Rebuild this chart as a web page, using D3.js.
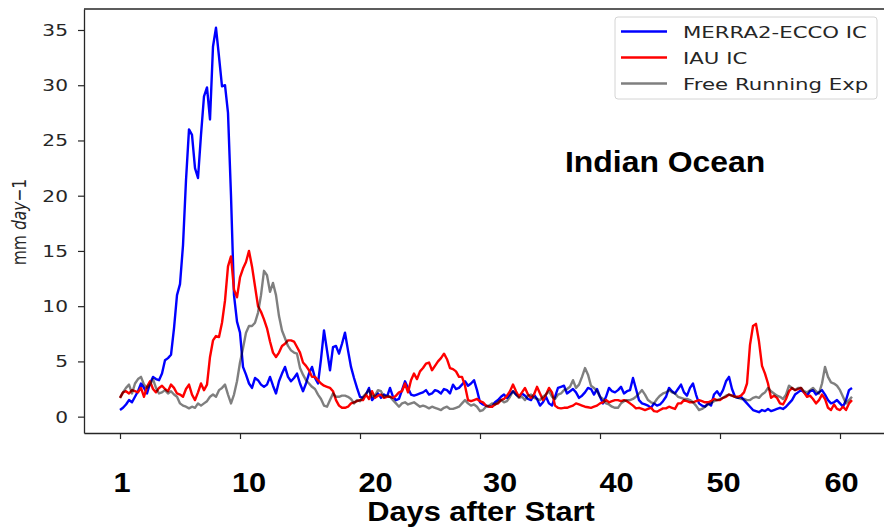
<!DOCTYPE html>
<html>
<head>
<meta charset="utf-8">
<script src="https://cdn.jsdelivr.net/npm/d3@7"></script>
<style>
  body { margin: 0; background: #fff; }
  svg { display: block; }
</style>
</head>
<body>
<svg id="chart" width="884" height="528"></svg>
<script>
// Sampling interval of the daily-mean precipitation series (days)
const STEP = 0.25;

// MERRA2-ECCO initial conditions (mm/day)
const merra2Ecco = [
  0.6,0.8,1.1,1.5, 1.3,1.8,2.3,3.0,
  2.6,2.1,3.0,3.6, 3.4,3.3,3.9,5.1,
  5.3,5.6,8.0,11.0, 12.0,15.5,21.4,26.0,
  25.5,22.5,21.6,25.5, 29.0,29.8,26.9,33.5,
  35.2,32.6,29.9,30.0, 27.5,20.0,11.0,8.6,
  7.6,4.5,3.8,3.0, 2.6,3.5,3.3,2.9,
  2.7,2.9,3.6,2.8, 2.1,3.2,3.9,4.5,
  3.6,3.2,3.5,3.9, 3.0,2.3,3.0,3.9,
  4.5,3.5,3.0,5.2, 7.8,6.0,4.2,6.3,
  6.4,5.7,6.6,7.6, 6.0,4.5,3.5,2.6,
  1.8,1.7,2.0,2.6, 1.5,1.8,2.1,1.7,
  2.0,1.8,2.6,1.8, 1.5,1.6,2.4,3.2,
  2.6,2.0,1.9,2.0, 2.1,2.2,2.4,2.0,
  2.1,2.4,2.3,2.1, 2.5,2.4,2.1,2.9,
  2.5,2.6,2.9,3.2, 2.8,3.0,3.3,2.4,
  1.3,1.1,1.0,0.9, 0.9,1.3,1.5,1.8,
  2.0,1.7,2.0,2.3, 2.0,1.8,2.1,1.9,
  1.6,1.5,2.0,1.6, 1.0,1.3,1.8,1.2,
  1.0,1.8,2.6,2.7, 2.8,2.1,2.3,2.5,
  2.2,1.7,1.9,2.2, 2.6,2.5,2.0,2.5,
  1.8,1.2,1.8,2.6, 2.3,2.2,2.4,2.7,
  2.1,2.3,2.4,3.5, 2.5,1.5,1.2,1.1,
  1.0,0.8,1.2,1.0, 1.1,1.4,1.8,2.6,
  2.3,2.1,2.5,2.9, 2.2,1.9,2.6,3.0,
  2.0,1.2,1.0,0.9, 1.2,1.0,2.0,2.3,
  1.9,2.4,3.2,3.6, 2.5,1.8,1.7,1.8,
  1.5,1.2,0.9,0.6, 0.5,0.4,0.6,0.5,
  0.7,0.5,0.6,0.7, 0.8,0.7,0.9,1.2,
  1.5,2.0,2.2,2.4, 2.2,1.9,2.3,2.4,
  2.0,2.2,2.4,2.0, 1.5,1.2,1.3,1.5,
  1.2,0.9,1.5,2.4, 2.6
];

// IAU initial conditions (mm/day)
const iauIC = [
  1.7,2.2,2.3,2.1, 2.4,2.3,2.2,2.6,
  1.8,2.7,3.2,2.5, 2.2,2.6,2.8,2.5,
  2.3,2.9,2.6,2.1, 2.0,1.8,2.5,2.9,
  2.0,1.5,2.2,3.0, 2.4,2.9,5.4,6.9,
  7.3,7.2,8.5,10.5, 13.6,14.5,11.5,10.8,
  12.6,13.4,14.0,15.0, 13.6,11.8,10.0,9.5,
  8.8,8.0,6.8,5.8, 5.4,5.8,6.4,6.6,
  6.9,6.9,6.8,6.3, 5.8,4.9,4.6,4.2,
  3.6,3.6,3.3,3.0, 2.8,2.7,2.6,2.3,
  1.5,1.0,0.8,0.8, 0.9,1.2,1.3,1.4,
  1.5,1.5,2.0,1.6, 2.3,1.7,1.9,2.0,
  1.7,1.8,1.8,1.7, 1.9,2.2,2.3,3.0,
  2.2,3.3,3.9,3.4, 4.1,4.4,4.8,4.9,
  4.2,4.6,5.0,5.3, 5.7,5.2,4.4,4.3,
  4.1,3.6,3.6,2.8, 1.5,1.4,1.5,1.6,
  1.4,1.3,1.0,0.9, 0.9,1.1,1.2,1.5,
  1.6,1.9,2.3,2.9, 2.3,1.8,2.2,2.6,
  2.0,1.7,2.0,2.7, 2.1,1.5,2.0,2.6,
  2.2,1.0,0.8,0.75, 0.8,0.8,0.9,1.0,
  1.2,1.1,1.0,0.9, 0.85,0.8,0.9,1.0,
  1.2,1.3,1.5,1.3, 1.4,1.5,1.5,1.4,
  1.5,1.4,1.2,1.0, 0.75,0.8,0.7,0.6,
  0.7,0.8,0.5,0.45, 0.6,0.75,0.75,0.9,
  0.8,0.7,1.2,1.2, 1.5,1.4,1.3,1.3,
  1.4,1.5,1.4,1.3, 1.3,1.4,1.6,1.5,
  1.5,1.7,1.8,2.0, 1.9,1.8,1.8,1.9,
  2.2,3.0,6.5,8.2, 8.4,6.8,4.6,3.9,
  3.0,1.7,1.9,1.7, 1.2,1.1,1.6,2.3,
  2.6,2.4,2.5,2.6, 2.2,1.8,1.9,1.6,
  1.2,1.5,2.0,1.6, 0.8,0.6,1.1,0.7,
  0.6,0.9,0.6,1.2, 1.5
];

// Free running experiment (mm/day)
const freeRunning = [
  1.7,2.2,2.6,2.9, 2.1,3.0,3.4,3.6,
  2.9,2.6,2.9,3.4, 2.6,2.1,2.2,2.4,
  2.1,2.3,2.0,1.8, 1.2,1.0,0.9,0.75,
  0.9,0.8,1.2,1.0, 1.2,1.4,1.8,2.0,
  1.8,2.4,2.6,2.9, 2.0,1.2,2.0,3.2,
  4.9,6.2,7.6,8.2, 8.2,8.5,9.4,11.0,
  13.2,12.8,11.3,12.1, 11.0,9.1,7.8,7.1,
  6.4,6.0,5.8,5.7, 4.4,3.8,3.3,3.0,
  2.7,2.5,2.0,1.6, 1.0,0.9,1.5,2.1,
  1.8,1.8,1.9,1.9, 1.8,1.6,1.2,1.5,
  1.4,1.8,2.1,2.4, 1.8,1.9,2.4,2.3,
  1.8,1.9,1.8,1.5, 1.2,0.9,1.2,1.3,
  1.1,1.2,1.3,1.1, 0.9,1.0,0.9,0.75,
  0.9,0.8,0.7,0.6, 0.8,0.9,0.7,0.7,
  0.8,0.9,1.2,1.5, 1.2,1.0,1.1,0.9,
  0.5,0.6,0.9,1.0, 1.2,1.1,1.3,1.5,
  1.3,1.4,1.8,2.3, 2.0,1.7,1.8,1.5,
  1.9,2.0,1.7,1.6, 1.5,1.8,2.0,2.3,
  1.8,1.6,2.0,2.1, 2.4,2.5,2.7,3.3,
  2.6,2.9,3.6,4.4, 3.8,2.8,2.6,2.3,
  1.8,1.6,1.2,1.1, 0.9,0.8,0.8,1.2,
  1.4,1.5,1.5,1.6, 1.8,2.1,2.4,2.0,
  1.5,1.3,1.2,1.6, 1.9,2.1,2.2,2.4,
  2.2,2.1,1.8,1.7, 1.6,1.6,1.5,1.3,
  1.0,0.6,0.7,0.9, 1.1,1.2,1.4,1.5,
  1.6,1.7,1.9,2.0, 1.9,1.8,1.7,1.6,
  1.6,1.5,1.5,1.7, 1.8,1.7,2.0,2.2,
  2.6,2.3,2.1,1.9, 1.8,1.6,2.0,2.8,
  2.6,2.4,2.6,2.6, 2.3,2.2,2.4,2.6,
  2.3,2.1,3.0,4.5, 3.6,3.1,3.0,2.8,
  2.4,1.8,1.2,1.5, 1.8
];

const seriesNames = ["MERRA2-ECCO IC", "IAU IC", "Free Running Exp"];
const seriesColors = ["#0000ff", "#ff0000", "#000000"];
const seriesOpacity = [1, 1, 0.5];

const xTickDays = [0, 10, 20, 30, 40, 50, 60];
const xTickLabels = ["1", "10", "20", "30", "40", "50", "60"];
const yTickValues = [0, 5, 10, 15, 20, 25, 30, 35];

const regionTitle = "Indian Ocean";
const xTitle = "Days after Start";

// ---- layout ----
const plot = { left: 84, top: 9, right: 888, bottom: 433 };
const STRETCH = 1.3;              // horizontal stretch of the sans labels
const BOLD_STRETCH = 1.1;         // horizontal stretch of the bold labels
const X_LABEL_NUDGE = [1.5, 8.5, 15, 19.5, 16, 3, 1]; // px shift of each bold day label
const SANS = "'DejaVu Sans', sans-serif";
const BOLD = "'Liberation Sans', Arial, sans-serif";

const svg = d3.select("#chart");

const x = d3.scaleLinear().domain([-3, 64]).range([plot.left, plot.right]);
const y = d3.scaleLinear().domain([-1.48, 36.9]).range([plot.bottom, plot.top]);

// ---- series lines ----
const line = d3.line()
  .x((d, i) => x(i * STEP))
  .y(d => y(d));

const allSeries = [merra2Ecco, iauIC, freeRunning];
const gLines = svg.append("g");
allSeries.forEach((values, k) => {
  gLines.append("path")
    .datum(values)
    .attr("fill", "none")
    .attr("stroke", seriesColors[k])
    .attr("stroke-opacity", seriesOpacity[k])
    .attr("stroke-width", 2.4)
    .attr("stroke-linejoin", "round")
    .attr("d", line);
});

// ---- axes ----
const spineColor = "#262626";

const yAxis = d3.axisLeft(y).tickValues(yTickValues).tickSize(6).tickSizeOuter(0);
const gy = svg.append("g").attr("transform", `translate(${plot.left},0)`).call(yAxis);
gy.select(".domain").attr("stroke", spineColor).attr("stroke-width", 1.3);
gy.selectAll(".tick line").attr("stroke", spineColor).attr("stroke-width", 1.2);
gy.selectAll(".tick text")
  .attr("x", null).attr("dy", null)
  .attr("transform", `translate(-16,5.5) scale(${STRETCH},1)`)
  .attr("text-anchor", "end")
  .attr("fill", "#262626")
  .style("font-family", SANS)
  .style("font-size", "15.5px");

const xAxis = d3.axisBottom(x).tickValues(xTickDays)
  .tickFormat((d, i) => xTickLabels[i]).tickSize(6).tickSizeOuter(0);
const gx = svg.append("g").attr("transform", `translate(0,${plot.bottom})`).call(xAxis);
gx.select(".domain").attr("stroke", spineColor).attr("stroke-width", 1.3);
gx.selectAll(".tick line").attr("stroke", spineColor).attr("stroke-width", 1.2);
gx.selectAll(".tick text")
  .attr("y", null).attr("dy", null)
  .attr("transform", (d, i) => `translate(${X_LABEL_NUDGE[i]},59) scale(${BOLD_STRETCH},1)`)
  .attr("fill", "#000")
  .style("font-family", BOLD)
  .style("font-weight", "bold")
  .style("font-size", "28px");

// top spine
svg.append("line")
  .attr("x1", plot.left).attr("x2", plot.right)
  .attr("y1", plot.top).attr("y2", plot.top)
  .attr("stroke", spineColor).attr("stroke-width", 1.3);

// ---- axis titles ----
const yLab = svg.append("text")
  .attr("transform", `translate(26,222) scale(${STRETCH},1) rotate(-90)`)
  .attr("text-anchor", "middle")
  .attr("fill", "#262626")
  .style("font-family", SANS)
  .style("font-size", "15.5px");
yLab.append("tspan").text("mm ");
yLab.append("tspan").style("font-style", "italic").text("day");
yLab.append("tspan").text("\u22121");

svg.append("text")
  .attr("transform", `translate(481,521) scale(${BOLD_STRETCH},1)`)
  .attr("text-anchor", "middle")
  .style("font-family", BOLD)
  .style("font-weight", "bold")
  .style("font-size", "28px")
  .text(xTitle);

svg.append("text")
  .attr("transform", `translate(565,172) scale(${BOLD_STRETCH},1)`)
  .style("font-family", BOLD)
  .style("font-weight", "bold")
  .style("font-size", "29px")
  .text(regionTitle);

// ---- legend ----
const legend = svg.append("g");
legend.append("rect")
  .attr("x", 615).attr("y", 17).attr("width", 262).attr("height", 82)
  .attr("rx", 3)
  .attr("fill", "#fff").attr("fill-opacity", 0.85)
  .attr("stroke", "#d4d4d4").attr("stroke-width", 1);

seriesNames.forEach((name, k) => {
  const base = 37.5 + k * 26;
  legend.append("line")
    .attr("x1", 621).attr("x2", 667)
    .attr("y1", base - 6).attr("y2", base - 6)
    .attr("stroke", seriesColors[k])
    .attr("stroke-opacity", seriesOpacity[k])
    .attr("stroke-width", 2.4);
  legend.append("text")
    .attr("transform", `translate(683,${base}) scale(1.33,1)`)
    .attr("fill", "#262626")
    .style("font-family", SANS)
    .style("font-size", "16px")
    .text(name);
});
</script>
</body>
</html>
